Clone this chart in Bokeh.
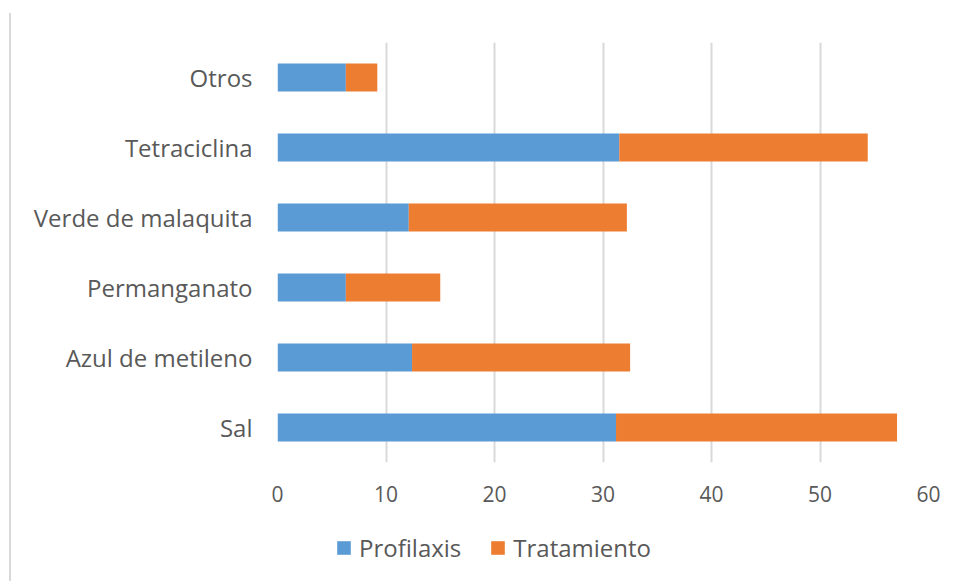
from bokeh.plotting import figure
from bokeh.layouts import column
from bokeh.models import ColumnDataSource, Legend, LegendItem, FactorRange, Range1d
from bokeh.embed import file_html
from bokeh.resources import INLINE

categories = ["Sal", "Azul de metileno", "Permanganato", "Verde de malaquita", "Tetraciclina", "Otros"]
profilaxis = [31.2, 12.4, 6.3, 12.1, 31.5, 6.3]
tratamiento = [25.9, 20.1, 8.7, 20.1, 22.9, 2.9]
series = ["Profilaxis", "Tratamiento"]
colors = ["#5B9BD5", "#ED7D31"]
x_ticks = [0, 10, 20, 30, 40, 50, 60]

source = ColumnDataSource(dict(cat=categories, Profilaxis=profilaxis, Tratamiento=tratamiento))

FONT = "Open Sans"
TEXT = "#595959"

p = figure(width=939, height=507, y_range=FactorRange(*categories), x_range=Range1d(0, 60),
           output_backend="svg", toolbar_location=None,
           min_border_left=266, min_border_right=22, min_border_top=29, min_border_bottom=58)

renderers = p.hbar_stack(series, y="cat", height=0.4, color=colors, source=source, line_width=0)

p.outline_line_color = None
p.ygrid.grid_line_color = None
p.xgrid.grid_line_color = "#D9D9D9"
p.xgrid.grid_line_width = 2
p.xaxis.ticker = x_ticks
p.xaxis.axis_line_color = None
p.yaxis.axis_line_color = None
p.xaxis.major_tick_line_color = None
p.yaxis.major_tick_line_color = None
p.xaxis.minor_tick_line_color = None
p.xaxis.major_tick_out = 0
p.yaxis.major_tick_out = 0
p.xaxis.major_label_standoff = 23
p.yaxis.major_label_standoff = 25
p.xaxis.major_label_text_font = FONT
p.yaxis.major_label_text_font = FONT
p.xaxis.major_label_text_font_size = "21px"
p.yaxis.major_label_text_font_size = "24px"
p.xaxis.major_label_text_color = TEXT
p.yaxis.major_label_text_color = TEXT

# legend hosted in a small companion figure below (its bar renderers are hidden)
leg = figure(width=939, height=61, x_range=Range1d(0, 60), y_range=FactorRange(*categories),
             output_backend="svg", toolbar_location=None,
             min_border_left=266, min_border_right=22, min_border_top=0, min_border_bottom=0)
leg.axis.visible = False
leg.grid.visible = False
leg.outline_line_color = None
leg_renderers = leg.hbar_stack(series, y="cat", height=0.4, color=colors, source=source, line_width=0)
for r in leg_renderers:
    r.visible = False
legend = Legend(items=[LegendItem(label=s, renderers=[r]) for s, r in zip(series, leg_renderers)],
                orientation="horizontal", location=(58, 17),
                glyph_width=17, glyph_height=17, label_standoff=7, spacing=28,
                padding=0, margin=0, border_line_color=None, background_fill_alpha=0,
                inactive_fill_alpha=0,
                label_text_font=FONT, label_text_font_size="24px", label_text_color=TEXT)
leg.add_layout(legend, "center")

layout = column(p, leg, spacing=0)
layout.styles = {"margin-left": "9px", "margin-top": "13px", "border-left": "2px solid #d9d9d9"}
open("out.html", "w").write(file_html(layout, INLINE))
